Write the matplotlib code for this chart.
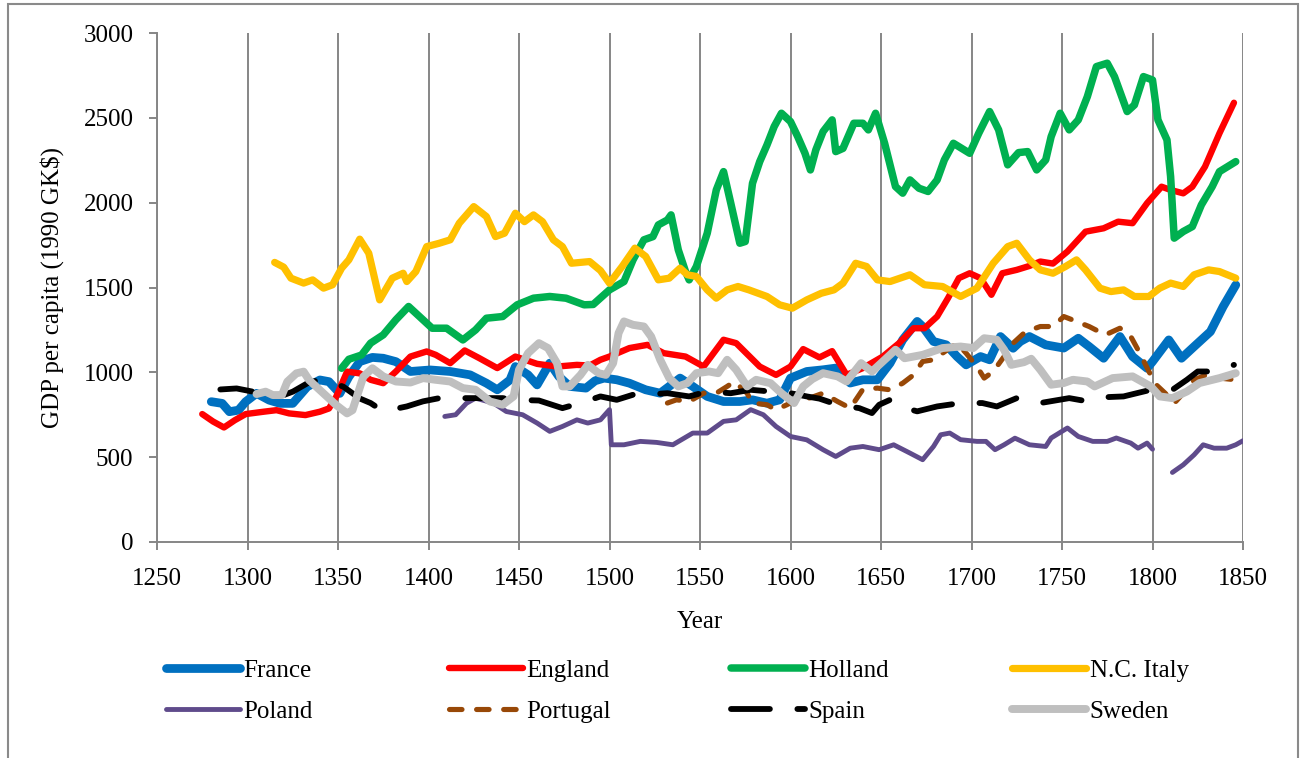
import numpy as np
import matplotlib
matplotlib.use("Agg")
import matplotlib.pyplot as plt
from matplotlib.lines import Line2D
from matplotlib.patches import Rectangle

plt.rcParams['font.family'] = ['Liberation Serif', 'DejaVu Serif']
plt.rcParams['font.size'] = 18
plt.rcParams['lines.scale_dashes'] = False

# values (GDP per capita, 1990 GK$)
france_years = [1280, 1286, 1290, 1295, 1299, 1305, 1312, 1318, 1325, 1333, 1340, 1345, 1351, 1356, 1362,
                1369, 1375, 1382, 1390, 1401, 1412, 1423, 1432, 1438, 1445, 1448, 1455, 1460, 1467, 1472,
                1478, 1487, 1492, 1497, 1504, 1511, 1520, 1528, 1533, 1539, 1546, 1554, 1563, 1572, 1579,
                1587, 1594, 1600, 1609, 1618, 1625, 1633, 1640, 1648, 1655, 1662, 1670, 1673, 1679, 1686,
                1692, 1697, 1705, 1710, 1716, 1723, 1727, 1732, 1741, 1751, 1759, 1765, 1773, 1782, 1789,
                1797, 1800, 1809, 1816, 1823, 1832, 1839, 1846]
france_gdp = [827, 817, 768, 777, 827, 876, 836, 817, 817, 915, 955, 945, 876, 974, 1063,
              1088, 1083, 1063, 1005, 1014, 1005, 985, 936, 897, 955, 1034, 985, 926, 1054, 976,
              917, 907, 950, 966, 956, 936, 897, 877, 917, 966, 917, 858, 828, 828, 838,
              818, 838, 966, 1005, 1015, 1025, 937, 956, 956, 1054, 1192, 1300, 1270, 1182, 1162,
              1093, 1044, 1093, 1074, 1211, 1142, 1182, 1211, 1162, 1143, 1201, 1152, 1083, 1211, 1093,
              1024, 1063, 1191, 1083, 1152, 1240, 1387, 1515]

england_years = [1275, 1281, 1287, 1293, 1299, 1309, 1316, 1323, 1332, 1340, 1345, 1349, 1355, 1362, 1368,
                 1375, 1382, 1390, 1399, 1404, 1412, 1420, 1428, 1438, 1448, 1460, 1471, 1482, 1489, 1495,
                 1500, 1511, 1521, 1530, 1542, 1552, 1563, 1570, 1583, 1592, 1600, 1607, 1616, 1623, 1631,
                 1640, 1651, 1660, 1668, 1674, 1681, 1687, 1693, 1699, 1705, 1711, 1717, 1725, 1732, 1738,
                 1745, 1753, 1763, 1773, 1781, 1789, 1797, 1805, 1810, 1817, 1822, 1829, 1837, 1845]
england_gdp = [754, 710, 675, 718, 754, 768, 777, 758, 748, 768, 787, 856, 1004, 994, 956,
               936, 1005, 1093, 1123, 1103, 1054, 1129, 1084, 1025, 1093, 1050, 1034, 1044, 1040, 1074,
               1093, 1143, 1162, 1113, 1093, 1034, 1192, 1172, 1034, 985, 1034, 1137, 1088, 1125, 985,
               1025, 1093, 1172, 1260, 1260, 1329, 1437, 1555, 1584, 1555, 1457, 1584, 1604, 1627, 1653,
               1641, 1712, 1829, 1849, 1888, 1879, 1997, 2094, 2075, 2055, 2094, 2212, 2409, 2589]

holland_years = [1352, 1356, 1363, 1368, 1375, 1382, 1389, 1395, 1402, 1410, 1419, 1426, 1432, 1441, 1449,
                 1458, 1467, 1476, 1486, 1491, 1500, 1508, 1513, 1519, 1524, 1527, 1532, 1534, 1538, 1542,
                 1544, 1548, 1554, 1559, 1563, 1567, 1572, 1575, 1579, 1583, 1587, 1591, 1595, 1600, 1604,
                 1608, 1611, 1614, 1618, 1623, 1625, 1629, 1635, 1640, 1643, 1647, 1652, 1658, 1662, 1666,
                 1671, 1676, 1681, 1685, 1690, 1699, 1704, 1710, 1715, 1720, 1726, 1731, 1736, 1741, 1744,
                 1749, 1754, 1759, 1764, 1769, 1775, 1779, 1786, 1790, 1795, 1800, 1803, 1808, 1810, 1812,
                 1817, 1822, 1827, 1833, 1837, 1846]
holland_gdp = [1024, 1077, 1102, 1172, 1221, 1310, 1388, 1329, 1260, 1260, 1191, 1250, 1319, 1329, 1398,
               1437, 1447, 1437, 1398, 1400, 1486, 1535, 1663, 1781, 1800, 1869, 1898, 1928, 1722, 1594,
               1545, 1624, 1820, 2075, 2183, 1997, 1761, 1771, 2114, 2242, 2340, 2449, 2527, 2478, 2389,
               2291, 2193, 2311, 2419, 2488, 2301, 2320, 2468, 2468, 2429, 2527, 2350, 2095, 2056, 2134,
               2085, 2066, 2134, 2252, 2350, 2291, 2409, 2537, 2429, 2223, 2295, 2301, 2193, 2252, 2389,
               2527, 2429, 2488, 2625, 2802, 2822, 2743, 2537, 2576, 2743, 2723, 2488, 2370, 2154, 1791,
               1830, 1859, 1987, 2095, 2183, 2242]

italy_years = [1315, 1320, 1324, 1331, 1336, 1342, 1347, 1352, 1356, 1362, 1367, 1373, 1380, 1386, 1388,
               1393, 1399, 1406, 1412, 1417, 1425, 1432, 1437, 1442, 1448, 1453, 1458, 1463, 1469, 1474,
               1479, 1489, 1495, 1500, 1507, 1514, 1520, 1527, 1533, 1539, 1543, 1548, 1554, 1559, 1565,
               1571, 1577, 1587, 1594, 1601, 1609, 1617, 1624, 1629, 1636, 1642, 1648, 1655, 1666, 1674,
               1684, 1694, 1703, 1712, 1720, 1725, 1732, 1738, 1745, 1752, 1758, 1763, 1771, 1777, 1784,
               1790, 1798, 1804, 1810, 1817, 1823, 1831, 1837, 1846]
italy_gdp = [1648, 1620, 1555, 1526, 1545, 1496, 1516, 1614, 1663, 1785, 1702, 1427, 1555, 1584, 1535,
             1594, 1741, 1761, 1781, 1879, 1977, 1918, 1800, 1820, 1938, 1888, 1928, 1888, 1781, 1741,
             1643, 1653, 1600, 1525, 1624, 1732, 1683, 1545, 1555, 1614, 1575, 1565, 1486, 1437, 1486,
             1506, 1486, 1447, 1398, 1378, 1427, 1466, 1486, 1525, 1643, 1624, 1545, 1535, 1575, 1516,
             1506, 1447, 1496, 1643, 1741, 1761, 1663, 1604, 1584, 1624, 1663, 1604, 1496, 1476, 1486,
             1447, 1447, 1496, 1526, 1506, 1575, 1604, 1594, 1555]

poland_years = [1409, 1415, 1421, 1426, 1436, 1443, 1452, 1460, 1467, 1474, 1482, 1488, 1495, 1500, 1501,
                1508, 1517, 1526, 1535, 1546, 1554, 1563, 1570, 1578, 1585, 1592, 1600, 1609, 1618, 1625,
                1633, 1640, 1649, 1657, 1666, 1673, 1679, 1683, 1688, 1694, 1703, 1708, 1713, 1718, 1724,
                1732, 1741, 1744, 1753, 1759, 1767, 1775, 1780, 1788, 1792, 1797, 1800, 1805, 1811, 1817,
                1823, 1828, 1834, 1841, 1846, 1850]
poland_gdp = [740, 750, 818, 848, 818, 769, 750, 701, 652, 681, 720, 701, 720, 780, 573,
              573, 593, 587, 573, 642, 642, 711, 720, 780, 750, 681, 622, 602, 544, 504,
              553, 563, 544, 573, 524, 485, 563, 632, 642, 603, 593, 593, 544, 573, 612,
              573, 563, 613, 672, 622, 593, 593, 613, 583, 553, 583, 547, np.nan, 410, 455,
              514, 573, 553, 553, 573, 597]

portugal_years = [1532, 1537, 1544, 1552, 1559, 1565, 1569, 1576, 1579, 1587, 1592, 1598, 1603, 1611, 1618,
                  1626, 1633, 1640, 1648, 1655, 1662, 1668, 1673, 1679, 1684, 1692, 1697, 1703, 1707, 1712,
                  1718, 1723, 1729, 1734, 1738, 1745, 1751, 1758, 1765, 1774, 1782, 1788, 1793, 1798, 1802,
                  1807, 1812, 1817, 1823, 1830, 1837, 1846]
portugal_gdp = [819, 838, 828, 877, 877, 917, 946, 877, 819, 809, 779, 809, 838, 850, 877,
                828, 789, 900, 907, 897, 936, 985, 1064, 1074, 1113, 1172, 1113, 1034, 966, 1005,
                1093, 1172, 1231, 1255, 1270, 1270, 1329, 1300, 1270, 1221, 1260, 1211, 1113, 1005, 927,
                877, 818, 877, 956, 986, 966, 956]

spain_years = [1285, 1294, 1303, 1310, 1320, 1325, 1333, 1338, 1344, 1353, 1362, 1368, 1375, 1388, 1397,
               1406, 1412, 1425, 1441, 1447, 1461, 1474, 1484, 1495, 1504, 1513, 1519, 1532, 1544, 1554,
               1567, 1578, 1589, 1600, 1609, 1616, 1626, 1638, 1645, 1649, 1655, 1659, 1670, 1681, 1694,
               1706, 1714, 1725, 1732, 1738, 1754, 1764, 1775, 1784, 1799, 1811, 1819, 1825, 1832, 1845]
spain_gdp = [899, 905, 886, 876, 866, 886, 935, 951, 951, 915, 846, 819, 770, 799, 829,
             848, 848, 848, 848, 838, 834, 789, 819, 858, 838, 868, 868, 877, 858, 887,
             877, 897, 887, 877, 858, 845, 809, 789, 760, 809, 838, 803, 770, 799, 819,
             819, 799, 848, 835, 819, 848, 829, 854, 858, 897, 897, 956, 1005, 1005, 1044]

sweden_years = [1305, 1310, 1314, 1319, 1322, 1327, 1331, 1334, 1338, 1344, 1349, 1355, 1358, 1361, 1364,
                1369, 1375, 1382, 1390, 1397, 1404, 1412, 1419, 1426, 1434, 1441, 1447, 1450, 1455, 1461,
                1466, 1471, 1474, 1478, 1484, 1488, 1494, 1498, 1502, 1505, 1508, 1513, 1519, 1523, 1528,
                1533, 1538, 1543, 1548, 1555, 1560, 1565, 1570, 1576, 1581, 1589, 1595, 1602, 1607, 1612,
                1618, 1626, 1631, 1639, 1645, 1650, 1658, 1663, 1673, 1684, 1694, 1701, 1707, 1714, 1718,
                1722, 1729, 1733, 1738, 1744, 1751, 1756, 1764, 1768, 1778, 1789, 1799, 1804, 1811, 1819,
                1826, 1837, 1846]
sweden_gdp = [872, 886, 866, 866, 945, 994, 1004, 955, 915, 856, 807, 758, 777, 876, 974,
              1024, 976, 946, 940, 966, 956, 946, 907, 897, 828, 809, 858, 1015, 1113, 1172,
              1143, 1054, 917, 917, 985, 1044, 995, 985, 1054, 1231, 1300, 1280, 1270, 1211, 1074,
              966, 917, 936, 995, 1005, 995, 1074, 1015, 917, 956, 936, 877, 819, 917, 960,
              995, 976, 946, 1054, 1005, 1054, 1133, 1083, 1103, 1143, 1152, 1143, 1201, 1192, 1133,
              1044, 1060, 1080, 1015, 927, 937, 956, 946, 917, 966, 976, 917, 858, 848, 887,
              937, 966, 995]

# name, x, y, colour, width (pt), dash pattern (None = solid)
series = [
    ("France", france_years, france_gdp, "#0070C0", 6.3, None),
    ("England", england_years, england_gdp, "#FF0000", 4.6, None),
    ("Holland", holland_years, holland_gdp, "#00B050", 5.4, None),
    ("N.C. Italy", italy_years, italy_gdp, "#FFC000", 5.2, None),
    ("Poland", poland_years, poland_gdp, "#5F4B8B", 3.5, None),
    ("Portugal", portugal_years, portugal_gdp, "#984807", 3.7, (9, 10.5)),
    ("Spain", spain_years, spain_gdp, "#000000", 4.2, (28, 19.8)),
    ("Sweden", sweden_years, sweden_gdp, "#BFBFBF", 5.7, None),
]
dash_offset = {"Spain": 5, "Portugal": 0}

grey = "#868686"

fig = plt.figure(figsize=(13, 7.58), dpi=100)
ax = fig.add_axes([157 / 1300, 1 - 542 / 758, 1086 / 1300, 509 / 758])

handles = {}
for name, xs, ys, color, lw, dash in series:
    style = dict(color=color, lw=lw, solid_capstyle="round", solid_joinstyle="round",
                 dash_capstyle="round", dash_joinstyle="round")
    ls = "-" if dash is None else (dash_offset[name], dash)
    ax.plot(xs, ys, linestyle=ls, label=name, **style)
    # legend sample starts at the beginning of the dash pattern
    handles[name] = Line2D([], [], linestyle="-" if dash is None else (0, dash), **style)

ax.set_xlim(1250, 1850)
ax.set_ylim(0, 3000)
ax.set_xticks(np.arange(1250, 1851, 50))
ax.set_yticks(np.arange(0, 3001, 500))
ax.grid(axis="x", color=grey, lw=1.4)
ax.set_axisbelow(True)
for side in ["top", "right"]:
    ax.spines[side].set_visible(False)
for side in ["left", "bottom"]:
    ax.spines[side].set_color(grey)
    ax.spines[side].set_linewidth(1.4)
ax.tick_params(axis="both", direction="out", length=6, width=1.4, color=grey)
ax.tick_params(axis="y", pad=11)
ax.tick_params(axis="x", pad=13)

ax.set_xlabel("Year")
ax.xaxis.set_label_coords(0.5, -(611 - 542) / 509)
ax.set_ylabel("GDP per capita (1990 GK$)")
ax.yaxis.set_label_coords((64 - 157) / 1086, 0.5)

# legend: four columns, two rows each
columns = [["France", "Poland"], ["England", "Portugal"], ["Holland", "Spain"], ["N.C. Italy", "Sweden"]]
col_x = [166, 449, 731, 1012]
for names, x in zip(columns, col_x):
    fig.legend([handles[n] for n in names], names, loc="center left",
               bbox_to_anchor=(x / 1300, 1 - 691 / 758), frameon=False, borderpad=0,
               borderaxespad=0, handlelength=2.95, handletextpad=0.15, labelspacing=0.75,
               fontsize=18)

fig.add_artist(Rectangle((8 / 1300, -0.1), 1290 / 1300, 1.1 - 4 / 758, transform=fig.transFigure,
                         fill=False, ec="#8a8a8a", lw=1.5))

fig.savefig("out.png", dpi=100)
